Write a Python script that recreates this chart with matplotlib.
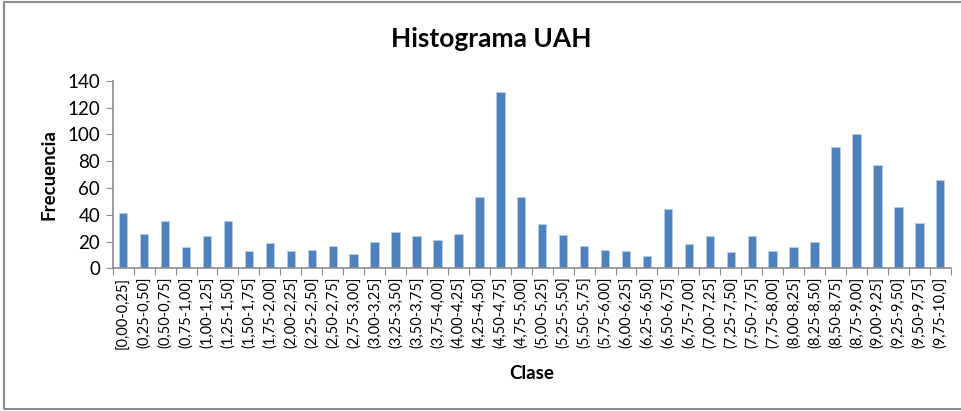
import matplotlib.pyplot as plt
from matplotlib.patches import Rectangle

clases = ['[0,00-0,25]', '(0,25-0,50]', '(0,50-0,75]', '(0,75-1,00]', '(1,00-1,25]',
          '(1,25-1,50]', '(1,50-1,75]', '(1,75-2,00]', '(2,00-2,25]', '(2,25-2,50]',
          '(2,50-2,75]', '(2,75-3,00]', '(3,00-3,25]', '(3,25-3,50]', '(3,50-3,75]',
          '(3,75-4,00]', '(4,00-4,25]', '(4,25-4,50]', '(4,50-4,75]', '(4,75-5,00]',
          '(5,00-5,25]', '(5,25-5,50]', '(5,50-5,75]', '(5,75-6,00]', '(6,00-6,25]',
          '(6,25-6,50]', '(6,50-6,75]', '(6,75-7,00]', '(7,00-7,25]', '(7,25-7,50]',
          '(7,50-7,75]', '(7,75-8,00]', '(8,00-8,25]', '(8,25-8,50]', '(8,50-8,75]',
          '(8,75-9,00]', '(9,00-9,25]', '(9,25-9,50]', '(9,50-9,75]', '(9,75-10,0]']
frecuencia = [41, 26, 35, 16, 24, 35, 13, 19, 13, 14,
              17, 11, 20, 27, 24, 21, 26, 53, 132, 53,
              33, 25, 17, 14, 13, 9, 44, 18, 24, 12,
              24, 13, 16, 20, 91, 100, 77, 46, 34, 66]
yticks = [0, 20, 40, 60, 80, 100, 120, 140]

plt.rcParams['font.family'] = ['Lato', 'DejaVu Sans']
gris = '#8c8c8c'

fig = plt.figure(figsize=(9.62, 4.11), dpi=100)
ax = fig.add_axes([0.1172, 0.3472, 0.8711, 0.4558])

x = range(len(clases))
ax.bar(x, frecuencia, width=0.4, color='#4f81bd', edgecolor='#b9cde5', linewidth=0.6, zorder=2)

ax.set_xlim(-0.5, len(clases) - 0.5)
ax.set_ylim(0, 140)
ax.set_yticks(yticks)
ax.set_yticklabels([str(v) for v in yticks], fontsize=13.5)

# ticks between categories, labels at the centres
ax.set_xticks([i - 0.5 for i in range(len(clases) + 1)])
ax.set_xticklabels([])
ax.set_xticks(list(x), minor=True)
ax.set_xticklabels(clases, minor=True, rotation=90, fontsize=10.5)
ax.tick_params(axis='x', which='major', length=5, color=gris, direction='out')
ax.tick_params(axis='x', which='minor', length=0, pad=6)
ax.tick_params(axis='y', length=5, color=gris, direction='out', pad=4)

for s in ['top', 'right']:
    ax.spines[s].set_visible(False)
for s in ['left', 'bottom']:
    ax.spines[s].set_color(gris)
    ax.spines[s].set_linewidth(1.2)

ax.set_xlabel('Clase', fontsize=13.5, fontweight='bold', labelpad=12)
ax.set_ylabel('Frecuencia', fontsize=13.5, fontweight='bold', labelpad=7)

fig.text(0.511, 0.905, 'Histograma UAH', ha='center', va='center', fontsize=19, fontweight='bold')

# chart area border
fig.patches.append(Rectangle((4 / 962, 2 / 411), 1.0, 407 / 411, transform=fig.transFigure,
                             fill=False, edgecolor=gris, linewidth=1.5))

fig.savefig('out.png', dpi=100)
